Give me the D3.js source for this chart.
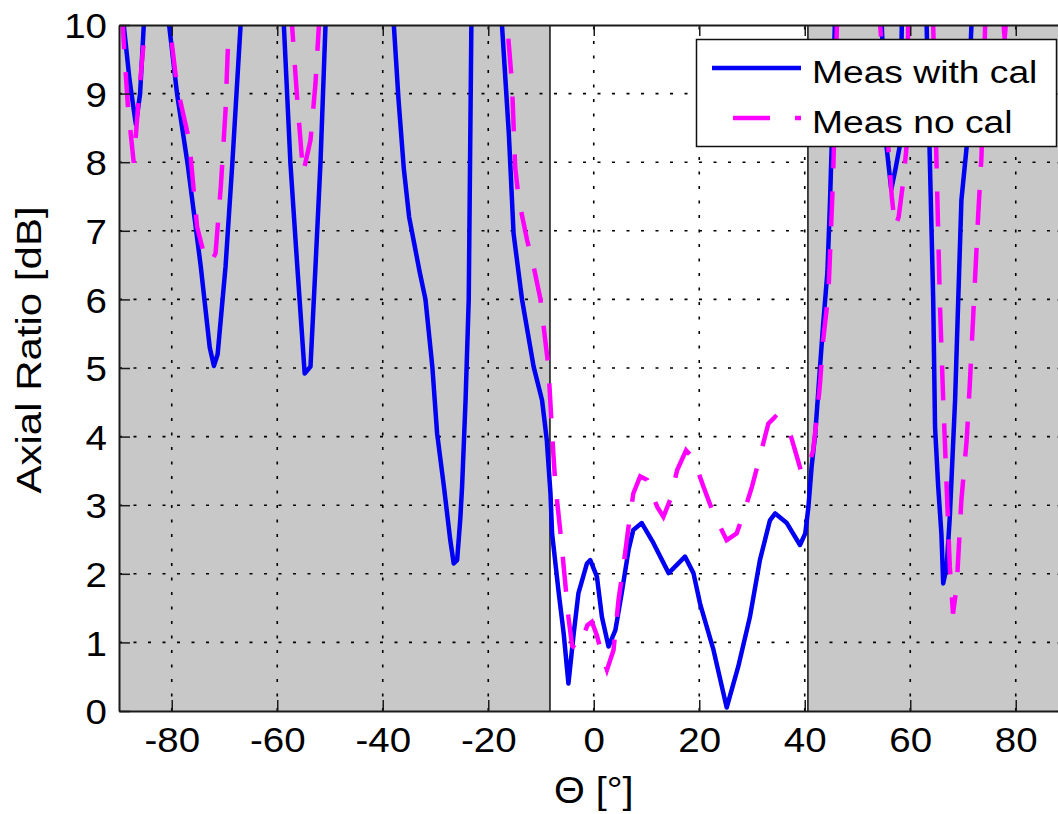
<!DOCTYPE html>
<html>
<head>
<meta charset="utf-8">
<script src="https://cdn.jsdelivr.net/npm/d3@7.9.0/dist/d3.min.js"></script>
<style>
  body { margin: 0; background: #fff; }
  svg { display: block; }
  text { font-family: 'Liberation Sans', Arial, sans-serif; fill: #000; }
</style>
</head>
<body>
<div id="chart"></div>
<script>
// Axial ratio vs theta (values above 10 are clipped)
const thetaCal = [-90, -89.1, -88, -86.8, -86, -85.3, -84, -82, -80.5, -79, -77, -74.5, -72.8, -72, -71.3, -69.8, -68.5, -66.95, -65, -61,
  -58.75, -57.5, -56.2, -54.8, -53.7, -52.75, -51.8, -50.85, -49, -40, -37.9, -37, -36, -35, -34, -33, -31.9, -30.6, -29.7, -28.4,
  -27.2, -26.55, -25.9, -25.3, -24.96, -24.3, -23.7, -23.45, -23.2, -21, -19, -17.4, -16.1, -15.2, -13.6, -11.4, -9.8, -8.9, -8.2, -7.9,
  -6.7, -5.7, -4.8, -3.8, -2.9, -1.3, -0.66, 0.6, 1.55, 2.8, 4.1, 5.3, 6.6, 7.5, 9.1, 11.3, 14.2, 17.3, 18.9, 20.2,
  22.7, 25.2, 27.4, 29.6, 31.5, 33.4, 34.4, 36.6, 39.1, 40.1, 40.7, 41.3, 42, 42.9, 43.5, 44.3, 44.8, 45.1, 45.7, 47,
  53, 54.6, 55.5, 56.4, 57.2, 58, 58.4, 60, 62, 63.1, 64.05, 64.35, 64.7, 65.3, 65.9, 66.25, 66.9, 67.5, 68.1, 68.5,
  69.1, 69.7, 70.7, 71.6, 73, 90];
const arCal = [11.2, 10, 9.2, 8.55, 9.0, 10, 11.5, 12, 10, 9.0, 7.98, 6.48, 5.3, 5.03, 5.2, 6.48, 8.0, 10, 11.5, 12,
  10, 7.98, 6.48, 4.92, 5.02, 6.48, 8.0, 10, 11.5, 12, 10, 8.9, 7.9, 7.2, 6.8, 6.4, 6.0, 5.02, 4.05, 3.27,
  2.49, 2.15, 2.2, 2.8, 3.27, 4.53, 6.0, 8.0, 10, 11.5, 11.5, 10, 8.42, 6.96, 6.0, 5.02, 4.53, 3.95, 3.17, 2.59,
  1.76, 1.13, 0.4, 1.13, 1.72, 2.15, 2.2, 1.96, 1.37, 0.94, 1.18, 1.72, 2.35, 2.64, 2.74, 2.45, 2.01, 2.25, 2.01, 1.55,
  0.89, 0.05, 0.65, 1.37, 2.2, 2.78, 2.88, 2.74, 2.42, 2.59, 2.98, 3.56, 4.05, 5.02, 5.65, 6.4, 7.45, 8.23, 10, 11.5,
  11.5, 10, 8.23, 7.6, 7.9, 8.23, 10, 11.5, 11.5, 10, 6.96, 6.0, 4.14, 3.27, 2.59, 1.86, 2.1, 2.83, 3.85, 4.53,
  6.0, 7.45, 8.23, 10, 11.5, 12];

const thetaNoCal = [-90, -89.05, -88.3, -87.2, -86.3, -85.5, -84.9, -83, -81, -80.4, -79, -76.7, -75.2, -73.6, -72.5, -71.7, -70.7, -69.8, -69.2, -67,
  -59, -57.2, -56.2, -55.1, -53.7, -52.75, -52.1, -50, -20, -16.4, -15.5, -14.9, -14.2, -12.65, -11.4, -10.1, -9.5, -8.6, -7.9, -7.3,
  -6.3, -5.4, -4.8, -4.1, -3.2, -2.2, -1.2, -0.35, 0.6, 1.55, 2.5, 3.75, 4.7, 5.6, 6.6, 7.5, 8.8, 10.1, 12, 13.2,
  14.5, 15.8, 17.5, 18.9, 20.8, 22.7, 25.2, 27.1, 28.4, 30, 31.5, 33.1, 34.4, 35.9, 37.2, 38.5, 39.4, 40.7, 41.6, 42.3,
  42.9, 43.5, 44.5, 45.4, 46.1, 48, 52, 54.3, 55.5, 56.5, 57.1, 57.8, 58.7, 59.3, 59.6, 61, 63, 64.35, 65, 65.6,
  66.25, 66.9, 67.5, 68.1, 68.8, 69.7, 70.7, 71.3, 71.9, 72.9, 73.5, 74.2, 75.5, 77.2, 77.9, 78.6, 80, 90];
const arNoCal = [11, 9.68, 8.8, 7.99, 8.9, 9.6, 10, 11.5, 11.5, 10, 9.1, 8.32, 7.06, 6.57, 6.55, 6.67, 7.64, 8.76, 10, 11.5,
  11.5, 10, 8.9, 7.84, 8.32, 9.15, 10, 11.5, 11.5, 10, 9.15, 7.93, 7.45, 6.87, 6.48, 6.0, 5.6, 5.02, 4.05, 3.32,
  2.59, 1.86, 1.37, 0.95, 0.9, 1.05, 1.25, 1.3, 1.1, 0.82, 0.6, 0.89, 1.62, 2.1, 2.69, 3.17, 3.42, 3.37, 2.98, 2.83,
  3.08, 3.51, 3.8, 3.68, 3.27, 2.88, 2.49, 2.59, 2.88, 3.27, 3.71, 4.19, 4.29, 4.19, 4.05, 3.71, 3.47, 3.56, 3.8, 4.29,
  4.78, 5.41, 6.1, 7.84, 10, 11.5, 11.5, 10, 8.6, 7.5, 7.06, 7.2, 7.74, 8.23, 10, 11.5, 11.5, 10, 7.93, 6.0,
  4.53, 3.27, 2.1, 1.42, 1.81, 3.08, 3.95, 4.78, 5.7, 7.26, 8.08, 10, 11.5, 10.5, 9.8, 10.5, 11.5, 12];

// shaded (out of band) theta ranges
const shadedRanges = [[-90, -8.3], [40.6, 90]];

const xTicks = [-80, -60, -40, -20, 0, 20, 40, 60, 80];
const yTicks = [0, 1, 2, 3, 4, 5, 6, 7, 8, 9, 10];

const seriesNames = ['Meas with cal', 'Meas no cal'];
const seriesColors = ['#0000f2', '#ff00ff'];

const width = 1058;
const height = 814;
const margin = { top: 25, left: 119, bottom: 103 };

const x = d3.scaleLinear().domain([-90, 90]).range([margin.left, 1068.5]);
const y = d3.scaleLinear().domain([0, 10]).range([height - margin.bottom, margin.top]);

const svg = d3.select('#chart').append('svg')
  .attr('width', width)
  .attr('height', height);

svg.append('defs').append('clipPath').attr('id', 'plot-clip')
  .append('rect')
  .attr('x', x(-90)).attr('y', y(10))
  .attr('width', x(90) - x(-90)).attr('height', y(0) - y(10));

// widen text like the original renderer does
function stretch(sel, k) {
  sel.each(function () {
    const len = this.getComputedTextLength();
    d3.select(this).attr('textLength', len * k).attr('lengthAdjust', 'spacingAndGlyphs');
  });
}

const plot = svg.append('g');

// shaded regions
plot.selectAll('rect.shade')
  .data(shadedRanges)
  .join('rect')
  .attr('class', 'shade')
  .attr('x', (d) => x(d[0]))
  .attr('y', y(10))
  .attr('width', (d) => x(d[1]) - x(d[0]))
  .attr('height', y(0) - y(10))
  .attr('fill', '#c8c8c8');

// dotted grid
const grid = plot.append('g')
  .attr('stroke', '#000')
  .attr('stroke-width', 1.6)
  .attr('stroke-dasharray', '3 11.5');

grid.selectAll('line.gx')
  .data(xTicks)
  .join('line')
  .attr('x1', (d) => x(d)).attr('x2', (d) => x(d))
  .attr('y1', y(0)).attr('y2', y(10));

grid.selectAll('line.gy')
  .data(yTicks.slice(1, -1))
  .join('line')
  .attr('y1', (d) => y(d)).attr('y2', (d) => y(d))
  .attr('x1', x(-90)).attr('x2', x(90));

// band edges
plot.selectAll('line.edge')
  .data([shadedRanges[0][1], shadedRanges[1][0]])
  .join('line')
  .attr('x1', (d) => x(d)).attr('x2', (d) => x(d))
  .attr('y1', y(0)).attr('y2', y(10))
  .attr('stroke', '#111')
  .attr('stroke-width', 1.5);

// curves
const line = d3.line()
  .x((d) => x(d[0]))
  .y((d) => y(d[1]));

const curves = plot.append('g').attr('clip-path', 'url(#plot-clip)').attr('fill', 'none');

curves.append('path')
  .datum(d3.zip(thetaCal, arCal))
  .attr('d', line)
  .attr('stroke', seriesColors[0])
  .attr('stroke-width', 4.5)
  .attr('stroke-linejoin', 'round');

curves.append('path')
  .datum(d3.zip(thetaNoCal, arNoCal))
  .attr('d', line)
  .attr('stroke', seriesColors[1])
  .attr('stroke-width', 4.5)
  .attr('stroke-dasharray', '35 23');

// axes (MATLAB style: ticks inside, box on)
const tickLen = 11;
const axisColor = '#1a1a1a';

const xAxis = svg.append('g')
  .attr('transform', `translate(0, ${y(0)})`)
  .call(d3.axisBottom(x).tickValues(xTicks).tickSizeInner(-tickLen).tickSizeOuter(0).tickPadding(14));
const xAxisTop = svg.append('g')
  .attr('transform', `translate(0, ${y(10)})`)
  .call(d3.axisTop(x).tickValues(xTicks).tickSizeInner(-tickLen).tickSizeOuter(0).tickFormat(''));
const yAxis = svg.append('g')
  .attr('transform', `translate(${x(-90)}, 0)`)
  .call(d3.axisLeft(y).tickValues(yTicks).tickSizeInner(-tickLen).tickSizeOuter(0).tickPadding(12));
const yAxisRight = svg.append('g')
  .attr('transform', `translate(${x(90)}, 0)`)
  .call(d3.axisRight(y).tickValues(yTicks).tickSizeInner(-tickLen).tickSizeOuter(0).tickFormat(''));

[xAxis, xAxisTop, yAxis, yAxisRight].forEach((g) => {
  g.select('.domain').attr('stroke', axisColor).attr('stroke-width', 2);
  g.selectAll('.tick line').attr('stroke', axisColor).attr('stroke-width', 1.5);
  g.selectAll('.tick text').attr('font-size', 35).attr('font-family', null).attr('fill', '#000');
});

xAxis.selectAll('.tick text').attr('dy', null).attr('y', 41);
xAxis.selectAll('.tick text').text((d) => String(d).replace('-', '-'));
stretch(xAxis.selectAll('.tick text'), 1.1);
yAxis.selectAll('.tick text').attr('dy', '0.36em');
stretch(yAxis.selectAll('.tick text'), 1.1);

// axis labels
const yLabel = svg.append('text')
  .attr('transform', `translate(41, ${(y(0) + y(10)) / 2 - 18}) rotate(-90)`)
  .attr('text-anchor', 'middle')
  .attr('font-size', 35)
  .text('Axial Ratio [dB]');
stretch(yLabel, 1.2);

const xLabel = svg.append('text')
  .attr('x', (x(-90) + x(90)) / 2)
  .attr('y', 803)
  .attr('text-anchor', 'middle')
  .attr('font-size', 36)
  .text('\u0398 [\u00b0]');
stretch(xLabel, 1.1);

// legend
const legend = svg.append('g');
legend.append('rect')
  .attr('x', 696.5).attr('y', 39.5)
  .attr('width', 360).attr('height', 107)
  .attr('fill', '#fff')
  .attr('stroke', '#111')
  .attr('stroke-width', 1.5);

const rows = legend.selectAll('g.row')
  .data(seriesNames)
  .join('g')
  .attr('transform', (d, i) => `translate(0, ${68 + i * 50})`);

rows.append('line')
  .attr('x1', 712).attr('x2', 801)
  .attr('stroke', (d, i) => seriesColors[i])
  .attr('stroke-width', 4.5)
  .attr('stroke-dasharray', (d, i) => (i === 1 ? '37 25' : null))
  .attr('stroke-dashoffset', (d, i) => (i === 1 ? 41 : null));

const legendText = rows.append('text')
  .attr('x', 812)
  .attr('y', 15)
  .attr('font-size', 31)
  .text((d) => d);
stretch(legendText, 1.2);
</script>
</body>
</html>
